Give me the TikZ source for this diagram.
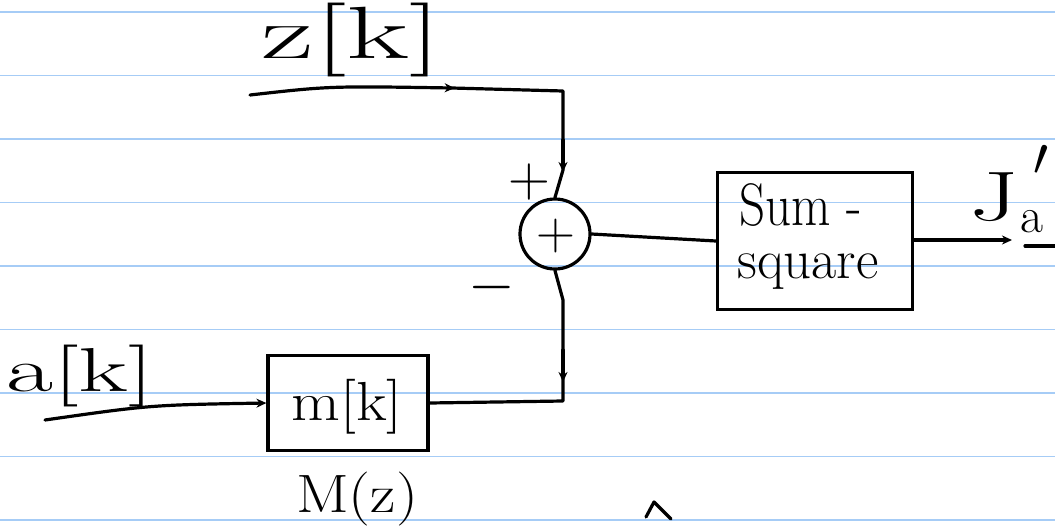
\RequirePackage{fix-cm}
\documentclass[tikz,border=0pt]{standalone}
\usepackage{fontspec}
\usetikzlibrary{arrows.meta,decorations.markings}
\definecolor{ruleblue}{RGB}{166,204,246}
\tikzset{
  rule/.style={draw=ruleblue, line width=1.8pt},
  wire/.style={draw=black, line width=3.2pt, line cap=round, line join=round},
  blockbox/.style={draw=black, line width=3.2pt, minimum width=#1, inner sep=0pt},
  sumnode/.style={draw=black, circle, line width=3.2pt, minimum size=70pt, inner sep=0pt},
  hand/.style={font=\fontsize{#1}{#1}\selectfont, inner sep=0pt},
  tipat/.style={postaction={decorate}, decoration={markings,
      mark=at position #1 with {\arrow{Stealth[length=10pt,width=9pt]}}}},
  tip/.style={-{Stealth[length=10pt,width=9pt]}},
}
\begin{document}
\begin{tikzpicture}[x=1pt,y=-1pt]
  % page and ruled lines
  \fill[white] (0,0) rectangle (1055,525);
  \useasboundingbox (0,0) rectangle (1055,525);
  \foreach \yy in {12,75.5,139,202.5,266,329.5,393,456.5,520}
    \draw[rule] (0,\yy) -- (1055,\yy);

  % blocks
  \node[sumnode] (sum) at (555,234) {};
  \node[hand=54pt] (sumplus) at (556,236) {+};
  \node[blockbox=160pt, minimum height=95pt] (mbox) at (348,403) {};
  \node[hand=55pt, xscale=1.15] (mtxt) at (347,407) {m[k]};
  \node[blockbox=195pt, minimum height=137pt] (sqbox) at (815,241) {};
  \node[hand=60pt, xscale=0.85] (sumtxt) at (801,205) {Sum -};
  \node[hand=56pt, xscale=0.98] (sqtxt) at (808,272) {square};

  % labels
  \node[hand=74pt, xscale=1.75] (zlabel) at (352,40) {z[k]};
  \node[hand=62pt, xscale=1.65] (alabel) at (80,376) {a[k]};
  \node[hand=54pt, xscale=1.15] (Mlabel) at (357,499) {M(z)};
  \node[hand=58pt] (plus) at (529,182) {+};
  \node[hand=60pt] (minus) at (492,287) {$-$};
  \node[hand=70pt, xscale=1.5, anchor=base] (Jlabel) at (994,220) {J};
  \node[hand=50pt, anchor=base west] (Jsub) at (1020,232) {a};
  \node[hand=54pt] (Jprime) at (1041,160) {$\prime$};

  % caret mark near the bottom edge
  \draw[wire] (646,517) -- (654,502) -- (671,519);

  % signal paths
  \coordinate (zin) at (250,95);
  \coordinate (zc) at (563,91);
  \draw[wire, tipat=205pt] (zin) .. controls (330,86) .. (452,88) -- (zc) -- (563,170) -- (sum.north);
  \draw[wire, tip] (563,140) -- (563,172);

  \coordinate (ain) at (45,420);
  \draw[wire, tip] (ain) .. controls (150,405) .. (mbox.west);

  \coordinate (mc) at (563,401);
  \draw[wire] (mbox.east) -- (mc) -- (563,300) -- (sum.south);
  \draw[wire, tip] (563,350) -- (563,382);

  \draw[wire] (sum.east) -- (sqbox.west);

  \coordinate (Jout) at (1012,240);
  \draw[wire, tip] (sqbox.east |- Jout) -- (Jout);
  \coordinate (ulA) at (1025,246);
  \coordinate (ulB) at (1055,246);
  \draw[wire] (ulA) -- (ulB);
\end{tikzpicture}
\end{document}
